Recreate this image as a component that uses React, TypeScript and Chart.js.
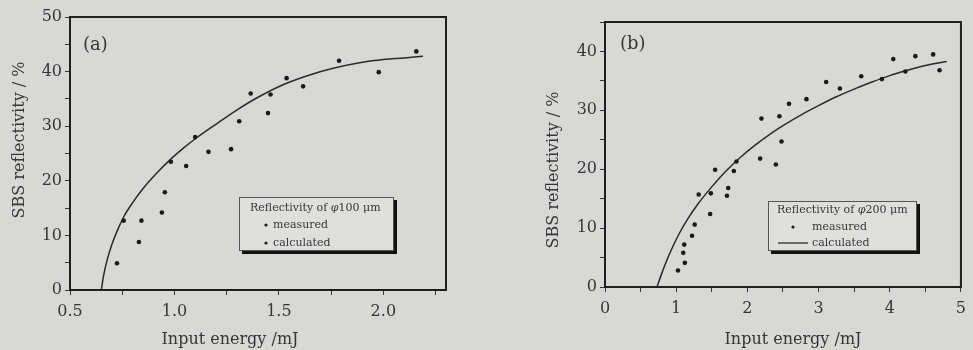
import React, { useEffect, useRef } from 'react';
import { Chart, registerables } from 'chart.js';

Chart.register(...registerables);

// ---------- data: panel (a), fibre core φ100 µm ----------
const energyA = [0.725, 0.757, 0.83, 0.842, 0.94, 0.954, 0.983, 1.056, 1.099, 1.163, 1.271, 1.31, 1.365, 1.448, 1.46, 1.537, 1.616, 1.788, 1.978, 2.158];
const reflA = [4.9, 12.7, 8.8, 12.7, 14.2, 17.9, 23.5, 22.7, 28.0, 25.3, 25.8, 30.9, 36.0, 32.4, 35.8, 38.8, 37.3, 42.0, 39.9, 43.7];
const calcEnergyA = [0.65, 0.66, 0.68, 0.7, 0.73, 0.76, 0.8, 0.85, 0.91, 0.975, 1.05, 1.1, 1.2, 1.3, 1.4, 1.52, 1.64, 1.76, 1.9, 2.0, 2.1, 2.19];
const calcReflA = [0, 2.5, 5.8, 8.3, 11.2, 13.6, 16.0, 18.6, 21.2, 23.7, 26.2, 27.7, 30.4, 33.0, 35.3, 37.6, 39.3, 40.6, 41.7, 42.2, 42.5, 42.8];
const xTicksA = [0.5, 0.75, 1.0, 1.25, 1.5, 1.75, 2.0, 2.25];
const xLabelsA = [0.5, 1.0, 1.5, 2.0];
const yTicksA = [0, 5, 10, 15, 20, 25, 30, 35, 40, 45, 50];
const yLabelsA = [0, 10, 20, 30, 40, 50];

// ---------- data: panel (b), fibre core φ200 µm ----------
const energyB = [1.025, 1.099, 1.113, 1.122, 1.223, 1.26, 1.316, 1.477, 1.487, 1.547, 1.713, 1.731, 1.81, 1.847, 2.179, 2.198, 2.4, 2.45, 2.48, 2.585, 2.83, 3.107, 3.3, 3.6, 3.89, 4.05, 4.22, 4.36, 4.61, 4.7];
const reflB = [2.8, 5.8, 7.2, 4.1, 8.7, 10.6, 15.7, 12.4, 15.9, 19.9, 15.5, 16.8, 19.7, 21.3, 21.8, 28.6, 20.8, 29.0, 24.7, 31.1, 31.9, 34.8, 33.7, 35.8, 35.3, 38.7, 36.6, 39.2, 39.5, 36.8];
const calcEnergyB = [0.73, 0.8, 0.87, 0.95, 1.04, 1.15, 1.3, 1.5, 1.7, 1.9, 2.1, 2.3, 2.5, 2.75, 3.0, 3.25, 3.5, 3.75, 4.0, 4.25, 4.5, 4.8];
const calcReflB = [0, 2.4, 4.6, 6.8, 9.0, 11.3, 14.0, 17.0, 19.7, 22.0, 24.0, 25.8, 27.4, 29.2, 30.8, 32.3, 33.6, 34.8, 35.9, 36.8, 37.6, 38.3];
const xTicksB = [0, 0.5, 1, 1.5, 2, 2.5, 3, 3.5, 4, 4.5, 5];
const xLabelsB = [0, 1, 2, 3, 4, 5];
const yTicksB = [0, 5, 10, 15, 20, 25, 30, 35, 40, 45];
const yLabelsB = [0, 10, 20, 30, 40];

const xTitle = 'Input energy /mJ';
const yTitle = 'SBS reflectivity / %';
const seriesLabels = ['measured', 'calculated'];

// ---------- styling ----------
const FONT = '"DejaVu Serif", "Liberation Serif", serif';
const INK = '#2a2a2a';
const TEXT = '#363636';
const BG = '#d8d8d6';
const LEGEND_BG = '#dfdfdd';

const has = (arr: number[], v: number) => arr.some((a) => Math.abs(a - v) < 1e-6);

type Decor = {
  id: string;
  panel: string; panelX: number; panelY: number;
  xTitleX: number; xTitleY: number;
  yTitleX: number; yTitleY: number;
  legend: {
    x: number; y: number; w: number; h: number;
    titleDx: number; rows: number[]; markDx: number; textDx: number;
    lineDx: [number, number]; calcStyle: 'dot' | 'line'; title: { t: string; i?: boolean }[];
  };
};

function decorPlugin(d: Decor) {
  return {
    id: d.id,
    afterDraw(chart: any) {
      const { ctx, chartArea: a } = chart;
      ctx.save();
      // frame
      ctx.strokeStyle = '#1f1f1f';
      ctx.lineWidth = 2;
      ctx.strokeRect(a.left, a.top, a.right - a.left, a.bottom - a.top);
      // panel label
      ctx.fillStyle = TEXT;
      ctx.font = `18px ${FONT}`;
      ctx.textAlign = 'left';
      ctx.textBaseline = 'middle';
      ctx.fillText(d.panel, d.panelX, d.panelY);
      // axis titles
      ctx.font = `16px ${FONT}`;
      ctx.textAlign = 'center';
      ctx.fillText(xTitle, d.xTitleX, d.xTitleY);
      ctx.save();
      ctx.translate(d.yTitleX, d.yTitleY);
      ctx.rotate(-Math.PI / 2);
      ctx.fillText(yTitle, 0, 0);
      ctx.restore();
      // legend
      const L = d.legend;
      ctx.fillStyle = '#111';
      ctx.fillRect(L.x + 3, L.y + 3, L.w, L.h);
      ctx.fillStyle = LEGEND_BG;
      ctx.fillRect(L.x, L.y, L.w, L.h);
      ctx.strokeStyle = '#555';
      ctx.lineWidth = 1;
      ctx.strokeRect(L.x + 0.5, L.y + 0.5, L.w - 1, L.h - 1);
      ctx.fillStyle = TEXT;
      ctx.textAlign = 'left';
      let tx = L.x + L.titleDx;
      for (const seg of L.title) {
        ctx.font = `${seg.i ? 'italic ' : ''}11px ${FONT}`;
        ctx.fillText(seg.t, tx, L.y + L.rows[0]);
        tx += ctx.measureText(seg.t).width;
      }
      ctx.font = `11px ${FONT}`;
      chart.data.datasets.forEach((ds: any, i: number) => {
        const y = L.y + L.rows[i + 1];
        const asDot = i === 0 || L.calcStyle === 'dot';
        if (asDot) {
          ctx.fillStyle = '#1a1a1a';
          ctx.beginPath();
          ctx.arc(L.x + L.markDx, y, 1.6, 0, Math.PI * 2);
          ctx.fill();
        } else {
          ctx.strokeStyle = INK;
          ctx.lineWidth = 1.3;
          ctx.beginPath();
          ctx.moveTo(L.x + L.lineDx[0], y);
          ctx.lineTo(L.x + L.lineDx[1], y);
          ctx.stroke();
        }
        ctx.fillStyle = TEXT;
        ctx.fillText(ds.label, L.x + L.textDx, y);
      });
      ctx.restore();
    },
  };
}

function axis(min: number, max: number, ticks: number[], labels: number[], digits: number, horizontal: boolean, size: number) {
  return {
    type: 'linear',
    min,
    max,
    afterBuildTicks: (s: any) => {
      s.ticks = ticks.map((v) => ({ value: v }));
    },
    afterFit: (s: any) => {
      if (horizontal) s.height = size;
      else s.width = size;
    },
    ticks: {
      autoSkip: false,
      maxRotation: 0,
      padding: horizontal ? 7 : 3,
      color: TEXT,
      font: { family: FONT, size: 16 },
      callback: (v: number) => (has(labels, v) ? v.toFixed(digits) : ''),
    },
    grid: {
      display: true,
      drawOnChartArea: false,
      drawTicks: true,
      tickLength: 5,
      color: '#333',
      lineWidth: 1,
    },
    border: { display: false },
  };
}

function makeConfig(
  mx: number[], my: number[], cx: number[], cy: number[],
  scales: any, padding: any, decor: Decor
) {
  return {
    type: 'scatter',
    data: {
      datasets: [
        {
          label: seriesLabels[0],
          data: mx.map((x, i) => ({ x, y: my[i] })),
          pointRadius: 2.3,
          pointBackgroundColor: '#1a1a1a',
          pointBorderWidth: 0,
          showLine: false,
        },
        {
          label: seriesLabels[1],
          data: cx.map((x, i) => ({ x, y: cy[i] })),
          showLine: true,
          pointRadius: 0,
          borderColor: INK,
          borderWidth: 1.5,
          cubicInterpolationMode: 'monotone',
        },
      ],
    },
    options: {
      animation: false,
      responsive: false,
      maintainAspectRatio: false,
      devicePixelRatio: 1,
      layout: { padding },
      plugins: { legend: { display: false }, tooltip: { enabled: false } },
      scales,
    },
    plugins: [decorPlugin(decor)],
  };
}

function Panel({ left, width, config }: { left: number; width: number; config: () => any }) {
  const ref = useRef<HTMLCanvasElement | null>(null);
  useEffect(() => {
    const chart = new Chart(ref.current as HTMLCanvasElement, config());
    return () => chart.destroy();
  }, []);
  return (
    <canvas
      ref={ref}
      width={width}
      height={350}
      style={{ position: 'absolute', left, top: 0, width, height: 350 }}
    />
  );
}

const configA = () =>
  makeConfig(
    energyA, reflA, calcEnergyA, calcReflA,
    {
      x: axis(0.5, 2.3, xTicksA, xLabelsA, 1, true, 60),
      y: axis(0, 50, yTicksA, yLabelsA, 0, false, 70),
    },
    { left: 0, right: 44, top: 17, bottom: 0 },
    {
      id: 'decorA',
      panel: '(a)', panelX: 83, panelY: 45,
      xTitleX: 230, xTitleY: 340,
      yTitleX: 20, yTitleY: 140,
      legend: {
        x: 239, y: 197, w: 155, h: 54,
        titleDx: 11, rows: [11, 28, 46], markDx: 27, textDx: 34,
        lineDx: [10, 40], calcStyle: 'dot',
        title: [{ t: 'Reflectivity of ' }, { t: 'φ', i: true }, { t: '100 μm' }],
      },
    }
  );

const configB = () =>
  makeConfig(
    energyB, reflB, calcEnergyB, calcReflB,
    {
      x: axis(0, 5, xTicksB, xLabelsB, 0, true, 63),
      y: axis(0, 45, yTicksB, yLabelsB, 0, false, 115),
    },
    { left: 0, right: 7, top: 22, bottom: 0 },
    {
      id: 'decorB',
      panel: '(b)', panelX: 130, panelY: 44,
      xTitleX: 303, xTitleY: 340,
      yTitleX: 64, yTitleY: 170,
      legend: {
        x: 278, y: 201, w: 149, h: 50,
        titleDx: 9, rows: [9, 26, 42], markDx: 25, textDx: 44,
        lineDx: [10, 40], calcStyle: 'line',
        title: [{ t: 'Reflectivity of ' }, { t: 'φ', i: true }, { t: '200 μm' }],
      },
    }
  );

export default function App() {
  return (
    <div
      style={{
        position: 'fixed',
        left: 0,
        top: 0,
        width: 973,
        height: 350,
        background: BG,
        overflow: 'hidden',
      }}
    >
      <Panel left={0} width={490} config={configA} />
      <Panel left={490} width={483} config={configB} />
    </div>
  );
}
